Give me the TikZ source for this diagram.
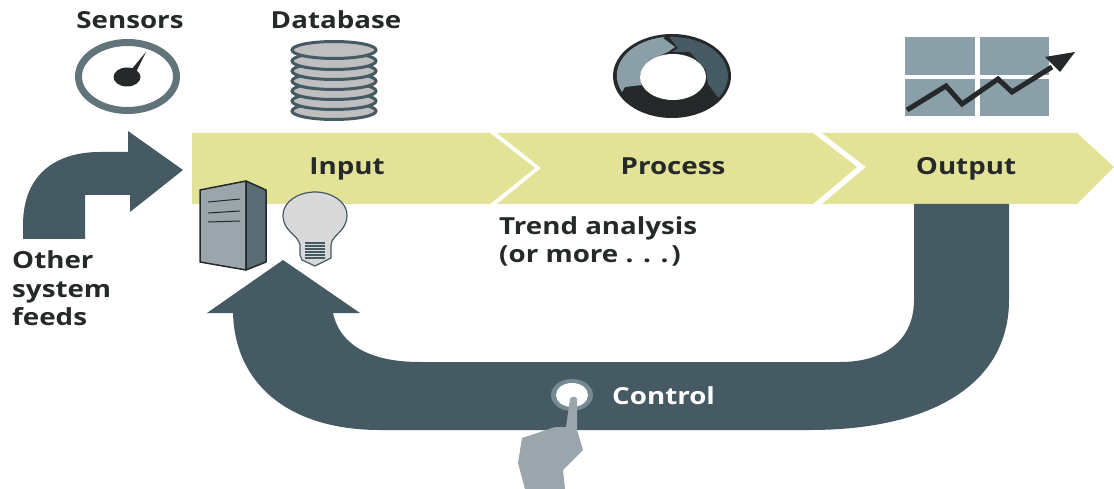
\documentclass[tikz,border=0pt]{standalone}
\usepackage{fontspec}
\setmainfont[FakeStretch=1.18]{Open Sans}
\definecolor{slate}{HTML}{465A63}
\definecolor{steel}{HTML}{8A9FA8}
\definecolor{ink}{HTML}{25292A}
\definecolor{khaki}{HTML}{E3E397}
\definecolor{ash}{HTML}{9AA6AC}
\tikzset{
  lab/.style={font=\fontsize{23.5}{28}\selectfont\bfseries,text=ink,inner sep=0pt,anchor=base},
  chevron/.style={fill=khaki,draw=none},
  disk/.style={fill=black!25,draw=slate,line width=3pt}
}
\begin{document}
\begin{tikzpicture}[x=1pt,y=-1pt]
\useasboundingbox (0,0) rectangle (1114,489);
% bar
\fill[chevron] (192,133) -- (490,133) -- (535,168) -- (490,204) -- (192,204) -- cycle;
\fill[chevron] (497,133) -- (813,133) -- (857,167) -- (813,204) -- (497,204) -- (541,168) -- cycle;
\fill[chevron] (822,133) -- (1077,133) -- (1114,167) -- (1077,204) -- (822,204) -- (866,167) -- cycle;
\node[lab] (input) at (347,175) {Input};
\node[lab] (process) at (673,175) {Process};
\node[lab] (output) at (966,175) {Output};
% loop arrow
\fill[slate] (914,204) -- (1009,204) -- (1009,300)
  .. controls (1009,385) and (930,430) .. (810,430) -- (380,430)
  .. controls (290,430) and (235,385) .. (233,313) -- (207,313) -- (283,260) -- (360,313) -- (333,313)
  .. controls (340,345) and (370,362) .. (420,362) -- (840,362)
  .. controls (885,362) and (914,340) .. (914,300) -- cycle;
% side arrow
\fill[slate] (23,239) -- (23,225) .. controls (23,175) and (55,152) .. (100,152) -- (128,152) -- (128,131)
  -- (183,170) -- (130,212) -- (130,195) -- (85,195) -- (85,239) -- cycle;
% sensor
\draw[line width=7pt,draw=slate!85!white] (127.5,76.5) ellipse[x radius=49,y radius=34];
\fill[ink] (127,77) ellipse[x radius=13.5,y radius=9.5];
\fill[ink] (131,70) -- (146,52) -- (136,72) -- cycle;
\node[lab] (sensors) at (130,29) {Sensors};
% database
\foreach \yc in {111,101,91,81,71,61,50}
  \draw[disk] (334,\yc) ellipse[x radius=42,y radius=8.5];
\node[lab] (database) at (336,29) {Database};
% process ring
\fill[ink] (672,76) ellipse[x radius=59,y radius=42];
\fill[slate] (669,37) arc[start angle=-93,end angle=34,x radius=56,y radius=39]
  -- (708,84) -- (707,77) -- (706,70) -- (690,52) -- (672,52) -- (678,48) -- cycle;
\fill[steel] (663,38) -- (675,47) -- (668,52) -- (650,60) -- (640,74) -- (642,85) -- (625,87) -- (622,92)
  arc[start angle=155,end angle=262,x radius=56,y radius=39] -- cycle;
\fill[white] (673,77) ellipse[x radius=33,y radius=23];
% chart
\fill[steel] (905,37) rectangle (975,75);
\fill[steel] (980,37) rectangle (1049,75);
\fill[steel] (905,79) rectangle (975,116);
\fill[steel] (980,79) rectangle (1049,116);
\draw[ink,line width=5pt] (907,110) -- (946,86) -- (962,104) -- (998,79) -- (1012,92) -- (1052,67);
\fill[ink] (1045,57) -- (1075,52) -- (1060,72) -- cycle;
% server
\draw[ink,line width=1.5pt,fill=ash,line join=round] (200,190) -- (246,181) -- (246,270) -- (200,262) -- cycle;
\draw[ink,line width=1.5pt,fill=slate!90!white,line join=round] (246,181) -- (266,190) -- (266,262) -- (246,270) -- cycle;
\draw[ink,line width=1pt] (208,202) -- (240,199);
\draw[ink,line width=1pt] (208,213) -- (240,211);
\draw[ink,line width=1pt] (208,222) -- (240,221);
% bulb
\draw[slate,line width=1.2pt,fill=black!15] (300,255) -- (300,245) .. controls (298,234) and (283,232) .. (283,215)
  .. controls (283,202) and (298,192) .. (315,192) .. controls (332,192) and (347,202) .. (347,215)
  .. controls (347,232) and (332,234) .. (331,245) -- (331,258) -- (315,266) -- (302,260) -- cycle;
\foreach \yl in {243,246,249,252,255,258}
  \draw[slate,line width=1.2pt] (305,\yl) -- (325,\yl);
% control
\fill[steel!70!slate] (572,395) ellipse[x radius=21,y radius=16];
\fill[white] (572,395) ellipse[x radius=16,y radius=12];
\node[lab,text=white,anchor=base west] (control) at (612,404) {Control};
\fill[ash] (570,399) .. controls (571,396) and (577,396) .. (577,399) -- (577,430) -- (583,450) -- (563,470)
  -- (565,489) -- (525,489) -- (518,463) -- (522,438) -- (540,432) -- (555,427) -- (566,427) -- cycle;
% notes
\node[lab,anchor=base west] (trend) at (499,235) {Trend analysis};
\node[lab,anchor=base west] (more) at (499,262) {(or more . . .\hspace{3pt})};
\node[lab,anchor=base west] (other) at (12,269) {Other};
\node[lab,anchor=base west] (system) at (12,297) {system};
\node[lab,anchor=base west] (feeds) at (12,325) {feeds};
\end{tikzpicture}
\end{document}
